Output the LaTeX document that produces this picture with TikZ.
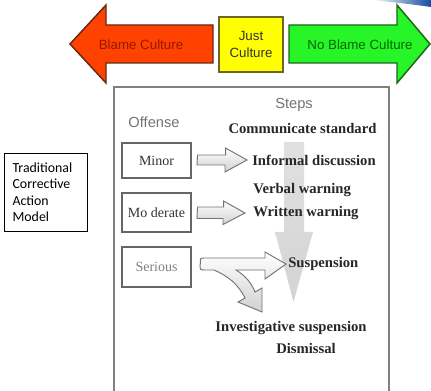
\documentclass[tikz,border=0pt]{standalone}
\usepackage{fontspec}
\setmainfont{Liberation Serif}
\newfontfamily\arialf{Liberation Sans}
\newfontfamily\calibrif{Carlito}
\definecolor{redfill}{RGB}{255,66,0}
\definecolor{redline}{RGB}{105,40,20}
\definecolor{redtext}{RGB}{150,25,0}
\definecolor{yelfill}{RGB}{255,255,0}
\definecolor{yelline}{RGB}{110,100,40}
\definecolor{grnfill}{RGB}{40,245,40}
\definecolor{grnline}{RGB}{30,100,30}
\definecolor{grntext}{RGB}{0,105,0}
\definecolor{swoosh}{RGB}{20,75,160}
\tikzset{
  topshape/.style={line width=1.1pt, line join=miter},
  toptext/.style={font=\arialf\fontsize{10}{12.75}\selectfont, inner sep=0pt, align=center},
  headtext/.style={font=\arialf\fontsize{11}{13}\selectfont, text=black!55, inner sep=0pt},
  steptext/.style={font=\bfseries\fontsize{11}{13}\selectfont, text=black!85, inner sep=0pt},
  offbox/.style={draw=black!60, line width=0.8pt, font=\fontsize{10.5}{12}\selectfont, inner sep=0pt},
  hollow/.style={draw=black!55, line width=0.7pt, line join=miter, top color=white, bottom color=black!18},
}
\begin{document}
\begin{tikzpicture}[x=0.75pt,y=-0.75pt]
\useasboundingbox (0,0) rectangle (431,391);
% corner swoosh
\path[left color=white, right color=swoosh] (372,0) -- (431,0) -- (431,7) .. controls (410,4) and (390,2) .. (372,0) -- cycle;
% top row
\draw[topshape, fill=redfill, draw=redline] (213,25) -- (106,25) -- (106,5) -- (70,44) -- (106,83) -- (106,63) -- (213,63) -- cycle;
\node[toptext, text=redtext] (blame) at (141,44.5) {Blame Culture};
\node[topshape, draw=yelline, fill=yelfill, minimum width=64*0.75pt, minimum height=55*0.75pt, inner sep=0pt] (just) at (251,44.5) {};
\node[toptext, text=black!80] (justtxt) at (just.center) {Just\\Culture};
\draw[topshape, fill=grnfill, draw=grnline] (289,25) -- (397,25) -- (397,5) -- (430,44) -- (397,83) -- (397,63) -- (289,63) -- cycle;
\node[toptext, text=grntext] (noblame) at (360,44.5) {No Blame Culture};
% side label
\node[draw=black, line width=0.6pt, anchor=north west, minimum width=83*0.75pt, minimum height=78*0.75pt,
      text width=50pt, inner xsep=6pt, align=left, font=\calibrif\fontsize{10.4}{12.4}\selectfont] (trad) at (4,153)
      {Traditional\\Corrective\\Action\\Model};
% main frame
\draw[black!50, line width=1.1pt] (114,400) -- (114,87) -- (389,87) -- (389,400);
% vertical gray arrow
\path[top color=black!12, bottom color=black!17] (284,142) -- (304,142) -- (304,232) -- (313,232) -- (293.5,302) -- (275,232) -- (284,232) -- cycle;
% headings
\node[headtext] (steps) at (294,105) {Steps};
\node[headtext] (offense) at (154,122) {Offense};
% offense boxes
\node[offbox, text=black!80, minimum width=69*0.75pt, minimum height=35*0.75pt] (minor) at (156.5,160.5) {Minor};
\node[offbox, text=black!80, minimum width=69*0.75pt, minimum height=39*0.75pt] (moderate) at (156.5,212.5) {Mo derate};
\node[offbox, text=black!50, minimum width=69*0.75pt, minimum height=40*0.75pt] (serious) at (156.5,267) {Serious};
% steps
\node[steptext] (comm) at (302.5,129) {Communicate standard};
\node[steptext, anchor=west] (informal) at (252,160) {Informal discussion};
\node[steptext, anchor=west] (verbal) at (253,190) {Verbal warning};
\node[steptext, anchor=west] (written) at (253,213) {Written warning};
\node[steptext, anchor=west] (susp) at (288,264) {Suspension};
\node[steptext] (invest) at (291,328) {Investigative suspension};
\node[steptext] (dismiss) at (306,348) {Dismissal};
% hollow arrows
\path[hollow] ([xshift=6*0.75pt,yshift=5.5*0.75pt]minor.east) -- ++(28,0) -- ++(0,-7) -- ([xshift=-5*0.75pt]informal.west) -- ++(-22,12) -- ++(0,-7) -- ++(-28,0) -- cycle;
\path[hollow] ([xshift=6*0.75pt,yshift=5.5*0.75pt]moderate.east) -- ++(26,0) -- ++(0,-6) -- ([xshift=-8*0.75pt]written.west) -- ++(-22,11.5) -- ++(0,-6) -- ++(-26,0) -- cycle;
\path[hollow] ([xshift=9*0.75pt,yshift=3*0.75pt]serious.east)
   .. controls (200,258) .. (205,258) -- (265,258) -- (265,252) -- ([xshift=-2*0.75pt]susp.west)
   -- (265,279) -- (265,270) -- (236,270)
   .. controls (246,276) and (252,284) .. (255,292) -- (262,288) -- (262,312) -- (238,302) -- (245,298)
   .. controls (238,284) and (228,276) .. (214,270) -- (205,270) .. controls (200,270) .. (200,264) -- cycle;
\end{tikzpicture}
\end{document}
